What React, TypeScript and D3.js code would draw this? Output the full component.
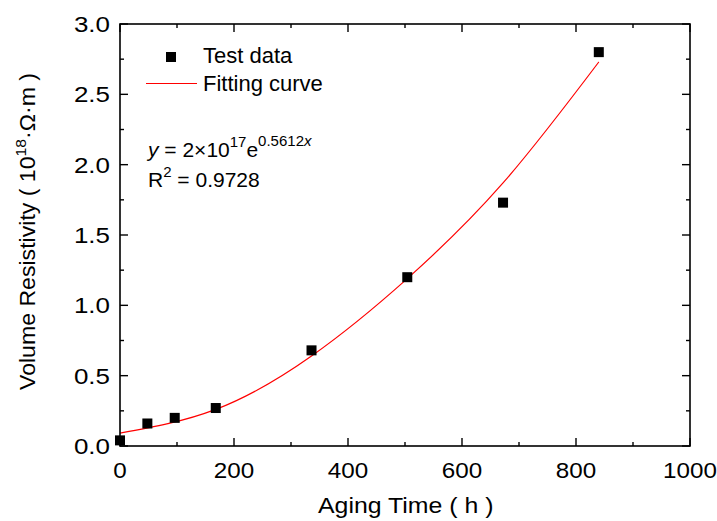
import React from "react";
import * as d3 from "d3";

// test data (aging time in h, volume resistivity in 10^18 ohm.m)
const agingTime = [0, 48, 96, 168, 336, 504, 672, 840];
const resistivity = [0.04, 0.16, 0.2, 0.27, 0.68, 1.2, 1.73, 2.8];

// fitting curve
const fitTime = [0, 168, 336, 504, 672, 840];
const fitValue = [0.092, 0.26, 0.64, 1.19, 1.87, 2.73];

const xTicks = [0, 200, 400, 600, 800, 1000];
const yTicks = [0, 0.5, 1, 1.5, 2, 2.5, 3];

const W = 717;
const H = 521;
const margin = { top: 24, right: 27, bottom: 75, left: 120 };
const font = "'Liberation Sans', Arial, sans-serif";

const App = () => {
	const x = d3.scaleLinear().domain([0, 1000]).range([margin.left, W - margin.right]);
	const y = d3.scaleLinear().domain([0, 3]).range([H - margin.bottom, margin.top]);

	const x0 = x(0), x1 = x(1000), y0 = y(0), y1 = y(3);

	const xMinor = d3.range(100, 1000, 200);
	const yMinor = d3.range(0.25, 3, 0.5);

	const line = d3
		.line<number>()
		.x((d, i) => x(fitTime[i]))
		.y((d) => y(d))
		.curve(d3.curveNatural);

	const major = 8;
	const minor = 4;

	return (
		<svg width={W} height={H} style={{ position: "absolute", left: 0, top: 0, background: "#fff" }} fontFamily={font}>
			{/* fitting curve */}
			<path d={line(fitValue) || ""} fill="none" stroke="#ff0000" strokeWidth={1.2} />

			{/* points */}
			{agingTime.map((t, i) => (
				<rect key={i} x={x(t) - 5} y={y(resistivity[i]) - 5} width={10} height={10} fill="#000" />
			))}

			{/* frame */}
			<rect x={x0} y={y1} width={x1 - x0} height={y0 - y1} fill="none" stroke="#000" strokeWidth={1.6} />

			{/* x ticks */}
			{xTicks.map((t) => (
				<g key={"x" + t}>
					<line x1={x(t)} x2={x(t)} y1={y0} y2={y0 - major} stroke="#000" strokeWidth={1.4} />
					<line x1={x(t)} x2={x(t)} y1={y1} y2={y1 + major} stroke="#000" strokeWidth={1.4} />
					<text transform={`translate(${x(t)},${y0 + 32}) scale(1.1,1)`} textAnchor="middle" fontSize={22}>
						{t}
					</text>
				</g>
			))}
			{xMinor.map((t) => (
				<g key={"xm" + t}>
					<line x1={x(t)} x2={x(t)} y1={y0} y2={y0 - minor} stroke="#000" strokeWidth={1.4} />
					<line x1={x(t)} x2={x(t)} y1={y1} y2={y1 + minor} stroke="#000" strokeWidth={1.4} />
				</g>
			))}

			{/* y ticks */}
			{yTicks.map((t) => (
				<g key={"y" + t}>
					<line x1={x0} x2={x0 + major} y1={y(t)} y2={y(t)} stroke="#000" strokeWidth={1.4} />
					<line x1={x1} x2={x1 - major} y1={y(t)} y2={y(t)} stroke="#000" strokeWidth={1.4} />
					<text transform={`translate(${x0 - 10},${y(t) + 8}) scale(1.18,1)`} textAnchor="end" fontSize={22}>
						{t.toFixed(1)}
					</text>
				</g>
			))}
			{yMinor.map((t) => (
				<g key={"ym" + t}>
					<line x1={x0} x2={x0 + minor} y1={y(t)} y2={y(t)} stroke="#000" strokeWidth={1.4} />
					<line x1={x1} x2={x1 - minor} y1={y(t)} y2={y(t)} stroke="#000" strokeWidth={1.4} />
				</g>
			))}

			{/* axis titles */}
			<text transform="translate(318,513) scale(1.13,1)" fontSize={22}>
				Aging Time ( h )
			</text>
			<text transform="translate(35,390) rotate(-90) scale(1.05,1)" fontSize={22}>
				Volume Resistivity ( 10
				<tspan dy={-9} fontSize={15}>18</tspan>
				<tspan dy={9}>·Ω·m )</tspan>
			</text>

			{/* legend */}
			<rect x={166} y={52} width={10} height={10} fill="#000" />
			<text x={203} y={63} fontSize={22}>Test data</text>
			<line x1={146} x2={197} y1={83.5} y2={83.5} stroke="#ff0000" strokeWidth={1.2} />
			<text x={203} y={91} fontSize={22}>Fitting curve</text>

			{/* equation */}
			<text x={148} y={157} fontSize={21}>
				<tspan fontStyle="italic">y</tspan>
				<tspan> = 2×10</tspan>
				<tspan dy={-10} fontSize={15}>17</tspan>
				<tspan dy={10}>e</tspan>
				<tspan dy={-11} fontSize={15}>0.5612</tspan>
				<tspan fontSize={15} fontStyle="italic">x</tspan>
			</text>
			<text x={148} y={187} fontSize={21}>
				R<tspan dy={-10} fontSize={15}>2</tspan>
				<tspan dy={10}> = 0.9728</tspan>
			</text>
		</svg>
	);
};

export default App;
